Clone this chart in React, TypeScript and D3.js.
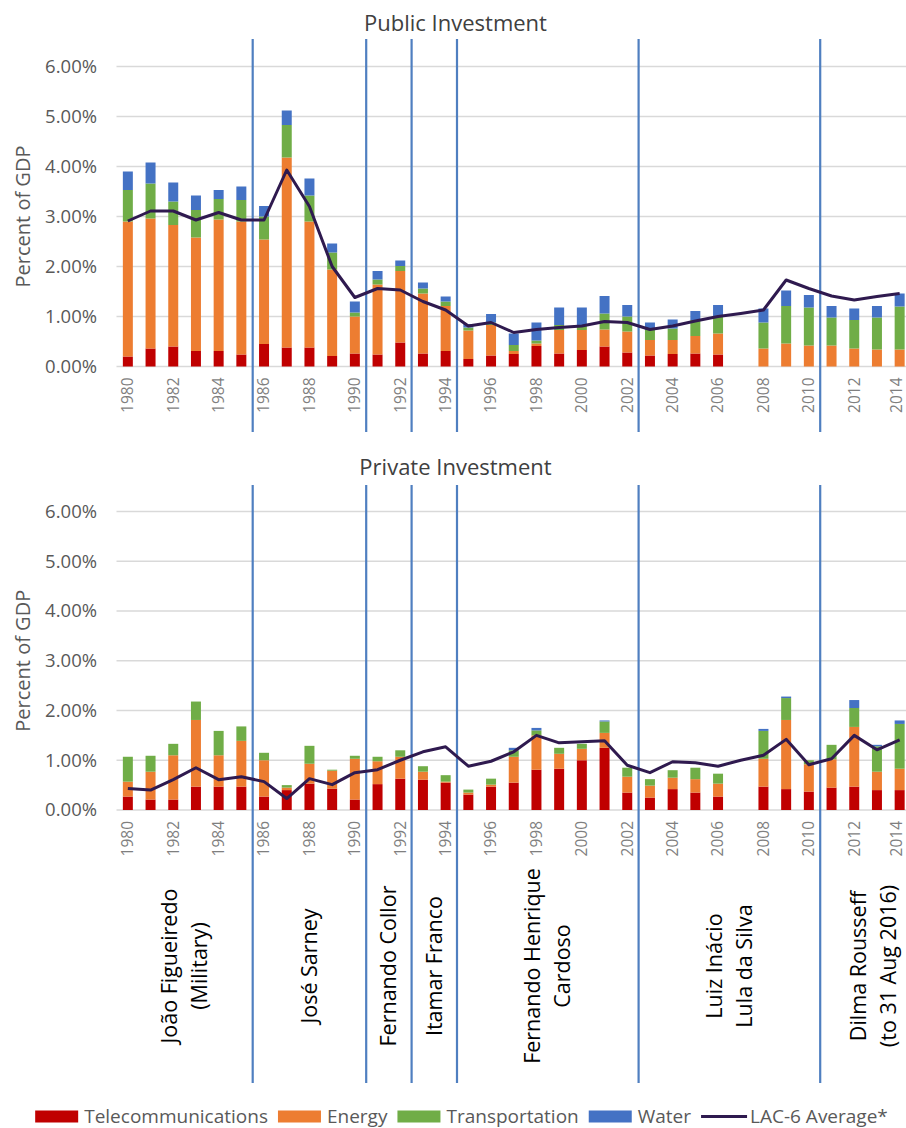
import React, { useRef, useEffect } from 'react';
import * as d3 from 'd3';

// years on the x axis
const years = d3.range(1980, 2015);
const tickYears = years.filter(y => (y - 1980) % 2 === 0);

// Public investment, % of GDP, by sector
const pubTelecom = [0.20, 0.36, 0.40, 0.31, 0.31, 0.24, 0.45, 0.38, 0.38, 0.21, 0.26, 0.24, 0.48, 0.26, 0.31, 0.15, 0.22, 0.25, 0.41, 0.26, 0.33, 0.40, 0.28, 0.22, 0.25, 0.26, 0.24, 0, 0, 0, 0, 0, 0, 0, 0];
const pubEnergy = [2.70, 2.60, 2.43, 2.27, 2.63, 2.66, 2.09, 3.80, 2.52, 1.73, 0.74, 1.40, 1.43, 1.20, 0.90, 0.57, 0.61, 0.06, 0.05, 0.47, 0.40, 0.34, 0.42, 0.31, 0.28, 0.35, 0.42, 0, 0.36, 0.46, 0.42, 0.42, 0.36, 0.34, 0.34];
const pubTransport = [0.63, 0.70, 0.47, 0.55, 0.41, 0.43, 0.46, 0.65, 0.52, 0.34, 0.08, 0.10, 0.10, 0.10, 0.09, 0.06, 0.05, 0.12, 0.06, 0.10, 0.08, 0.32, 0.30, 0.20, 0.23, 0.32, 0.34, 0, 0.52, 0.75, 0.76, 0.56, 0.57, 0.64, 0.86];
const pubWater = [0.37, 0.42, 0.38, 0.29, 0.18, 0.27, 0.21, 0.29, 0.34, 0.18, 0.22, 0.17, 0.11, 0.12, 0.10, 0.07, 0.17, 0.23, 0.36, 0.35, 0.37, 0.35, 0.23, 0.15, 0.18, 0.18, 0.23, 0, 0.28, 0.31, 0.25, 0.23, 0.23, 0.23, 0.26];
const pubLac = [2.91, 3.11, 3.11, 2.93, 3.08, 2.93, 2.93, 3.93, 3.20, 2.00, 1.38, 1.56, 1.53, 1.30, 1.13, 0.81, 0.88, 0.68, 0.74, 0.78, 0.81, 0.90, 0.88, 0.74, 0.81, 0.91, 1.00, 1.06, 1.13, 1.73, 1.56, 1.41, 1.33, 1.40, 1.46];

// Private investment, % of GDP, by sector
const privTelecom = [0.27, 0.21, 0.21, 0.47, 0.47, 0.47, 0.27, 0.40, 0.53, 0.43, 0.21, 0.52, 0.63, 0.61, 0.55, 0.31, 0.47, 0.55, 0.81, 0.83, 1.00, 1.25, 0.35, 0.25, 0.42, 0.35, 0.27, 0, 0.47, 0.42, 0.37, 0.45, 0.47, 0.40, 0.40];
const privEnergy = [0.30, 0.56, 0.89, 1.34, 0.63, 0.92, 0.73, 0.05, 0.40, 0.36, 0.82, 0.46, 0.44, 0.16, 0.02, 0.04, 0.04, 0.52, 0.69, 0.30, 0.23, 0.30, 0.32, 0.24, 0.23, 0.27, 0.26, 0, 0.56, 1.39, 0.55, 0.57, 1.20, 0.37, 0.43];
const privTransport = [0.50, 0.32, 0.23, 0.37, 0.49, 0.29, 0.15, 0.05, 0.36, 0.02, 0.06, 0.09, 0.13, 0.11, 0.13, 0.06, 0.12, 0.13, 0.10, 0.12, 0.10, 0.23, 0.18, 0.13, 0.15, 0.23, 0.20, 0, 0.56, 0.44, 0.08, 0.29, 0.38, 0.51, 0.90];
const privWater = [0, 0, 0, 0, 0, 0, 0, 0, 0, 0, 0, 0, 0, 0, 0, 0, 0, 0.05, 0.05, 0, 0, 0.02, 0, 0, 0, 0, 0, 0, 0.04, 0.03, 0, 0, 0.16, 0.03, 0.07];
const privLac = [0.43, 0.40, 0.61, 0.85, 0.61, 0.67, 0.57, 0.23, 0.63, 0.51, 0.75, 0.81, 1.00, 1.17, 1.27, 0.88, 0.98, 1.17, 1.50, 1.35, 1.37, 1.39, 0.90, 0.75, 0.97, 0.95, 0.88, 1.00, 1.10, 1.42, 0.91, 1.03, 1.50, 1.21, 1.41];

const yTicks = [0, 1, 2, 3, 4, 5, 6];

const sectorKeys = ['Telecommunications', 'Energy', 'Transportation', 'Water'];
const sectorColors = ['#c00000', '#ed7d31', '#70ad47', '#4472c4'];

// presidential terms
const presidents = [
  { lines: ['João Figueiredo', '(Military)'], start: 1980, end: 1985 },
  { lines: ['José Sarney'], start: 1986, end: 1990 },
  { lines: ['Fernando Collor'], start: 1991, end: 1992 },
  { lines: ['Itamar Franco'], start: 1993, end: 1994 },
  { lines: ['Fernando Henrique', 'Cardoso'], start: 1995, end: 2002 },
  { lines: ['Luiz Inácio', 'Lula da Silva'], start: 2003, end: 2010 },
  { lines: ['Dilma Rousseff', '(to 31 Aug 2016)'], start: 2011, end: 2014 },
];

const W = 906;
const H = 1128;
const FONT = '"Open Sans", "Noto Sans", sans-serif';

const App: React.FC = () => {
  const svgRef = useRef<SVGSVGElement>(null);

  useEffect(() => {
    if (!svgRef.current) return;
    const svg = d3.select(svgRef.current);
    svg.selectAll('*').remove();

    svg.append('rect').attr('width', W).attr('height', H).attr('fill', '#fff');

    const x = d3.scaleBand<number>()
      .domain(years)
      .range([116.5, 911])
      .paddingInner(0.56)
      .paddingOuter(0.28);
    const cx = (yr: number) => (x(yr) || 0) + x.bandwidth() / 2;
    const step = x.step();

    const panels = [
      { title: 'Public Investment', titleY: 31, base: 366.5, top: 66.5, lineTop: 39, lineBottom: 432,
        series: [pubTelecom, pubEnergy, pubTransport, pubWater], lac: pubLac },
      { title: 'Private Investment', titleY: 475, base: 810, top: 511.5, lineTop: 485, lineBottom: 1083,
        series: [privTelecom, privEnergy, privTransport, privWater], lac: privLac },
    ];

    panels.forEach(p => {
      const y = d3.scaleLinear().domain([0, 6]).range([p.base, p.top]);
      const g = svg.append('g');

      // title
      g.append('text')
        .attr('x', 455.5)
        .attr('y', p.titleY)
        .attr('text-anchor', 'middle')
        .style('font-family', FONT)
        .style('font-size', '22px')
        .style('fill', '#404040')
        .text(p.title);

      // gridlines
      g.selectAll('line.grid')
        .data(yTicks)
        .enter()
        .append('line')
        .attr('x1', 116.5)
        .attr('x2', W)
        .attr('y1', d => y(d))
        .attr('y2', d => y(d))
        .style('stroke', '#d9d9d9')
        .style('stroke-width', 1.3);

      // y tick labels
      g.selectAll('text.ytick')
        .data(yTicks)
        .enter()
        .append('text')
        .attr('x', 97)
        .attr('y', d => y(d))
        .attr('dy', '0.35em')
        .attr('text-anchor', 'end')
        .style('font-family', FONT)
        .style('font-size', '18.5px')
        .style('fill', '#595959')
        .text(d => d3.format('.2%')(d / 100));

      // y axis title
      g.append('text')
        .attr('transform', `translate(30,${(p.base + p.top) / 2}) rotate(-90)`)
        .attr('text-anchor', 'middle')
        .style('font-family', FONT)
        .style('font-size', '20px')
        .style('fill', '#595959')
        .text('Percent of GDP');

      // stacked bars
      const rows = years.map((yr, i) => {
        const r: any = { year: yr };
        sectorKeys.forEach((k, j) => { r[k] = p.series[j][i]; });
        return r;
      });
      const stacked = d3.stack<any>().keys(sectorKeys)(rows);
      stacked.forEach((layer, j) => {
        g.append('g')
          .selectAll('rect')
          .data(layer.filter(d => d[1] - d[0] > 0))
          .enter()
          .append('rect')
          .attr('x', d => x(d.data.year) || 0)
          .attr('width', x.bandwidth())
          .attr('y', d => y(d[1]))
          .attr('height', d => y(d[0]) - y(d[1]))
          .style('fill', sectorColors[j]);
      });

      // year labels (kept inside the page edge)
      g.selectAll('text.year')
        .data(tickYears)
        .enter()
        .append('text')
        .attr('transform', d => `translate(${Math.min(cx(d), W - 9)},${p.base + 11}) rotate(-90)`)
        .attr('text-anchor', 'end')
        .attr('dy', '0.35em')
        .style('font-family', FONT)
        .style('font-size', '15.5px')
        .style('fill', '#7f7f7f')
        .text(d => String(d));

      // term boundaries
      g.selectAll('line.term')
        .data(presidents.slice(0, -1))
        .enter()
        .append('line')
        .attr('x1', d => cx(d.end) + step / 2)
        .attr('x2', d => cx(d.end) + step / 2)
        .attr('y1', p.lineTop)
        .attr('y2', p.lineBottom)
        .style('stroke', '#4f7fc0')
        .style('stroke-width', 2.2);

      // LAC-6 average
      const line = d3.line<number>()
        .x((_, i) => cx(years[i]))
        .y(d => y(d));
      g.append('path')
        .attr('d', line(p.lac) || '')
        .style('fill', 'none')
        .style('stroke', '#2f1a4f')
        .style('stroke-width', 3)
        .style('stroke-linejoin', 'round');
    });

    // president names
    presidents.forEach(pr => {
      const mid = (cx(pr.start) + cx(pr.end)) / 2 + (pr.start === 2011 ? 8 : 0);
      const n = pr.lines.length;
      pr.lines.forEach((ln, i) => {
        svg.append('text')
          .attr('transform', `translate(${mid + (i - (n - 1) / 2) * 30},966) rotate(-90)`)
          .attr('text-anchor', 'middle')
          .attr('dy', '0.35em')
          .style('font-family', FONT)
          .style('font-size', '21.5px')
          .style('fill', '#000')
          .text(ln);
      });
    });

    // legend
    const legend = svg.append('g');
    const legendItems = [...sectorKeys.map((k, i) => ({ label: k, color: sectorColors[i], isLine: false })),
      { label: 'LAC-6 Average*', color: '#2f1a4f', isLine: true }];
    let lx = 0;
    legendItems.forEach(item => {
      if (item.isLine) {
        legend.append('line')
          .attr('x1', lx).attr('x2', lx + 46)
          .attr('y1', 0).attr('y2', 0)
          .style('stroke', item.color)
          .style('stroke-width', 3);
      } else {
        legend.append('rect')
          .attr('x', lx).attr('y', -6)
          .attr('width', 43).attr('height', 12)
          .style('fill', item.color);
      }
      const t = legend.append('text')
        .attr('x', lx + 49)
        .attr('y', 0)
        .attr('dy', '0.35em')
        .style('font-family', FONT)
        .style('font-size', '19px')
        .style('fill', '#595959')
        .text(item.label);
      const tw = (t.node() as SVGTextElement).getComputedTextLength();
      lx += 49 + tw + 10;
    });
    const total = lx - 10;
    legend.attr('transform', `translate(${461.5 - total / 2},1116.5)`);
  }, []);

  return (
    <svg
      ref={svgRef}
      width={W}
      height={H}
      style={{ position: 'absolute', left: 0, top: 0, display: 'block' }}
    />
  );
};

export default App;
